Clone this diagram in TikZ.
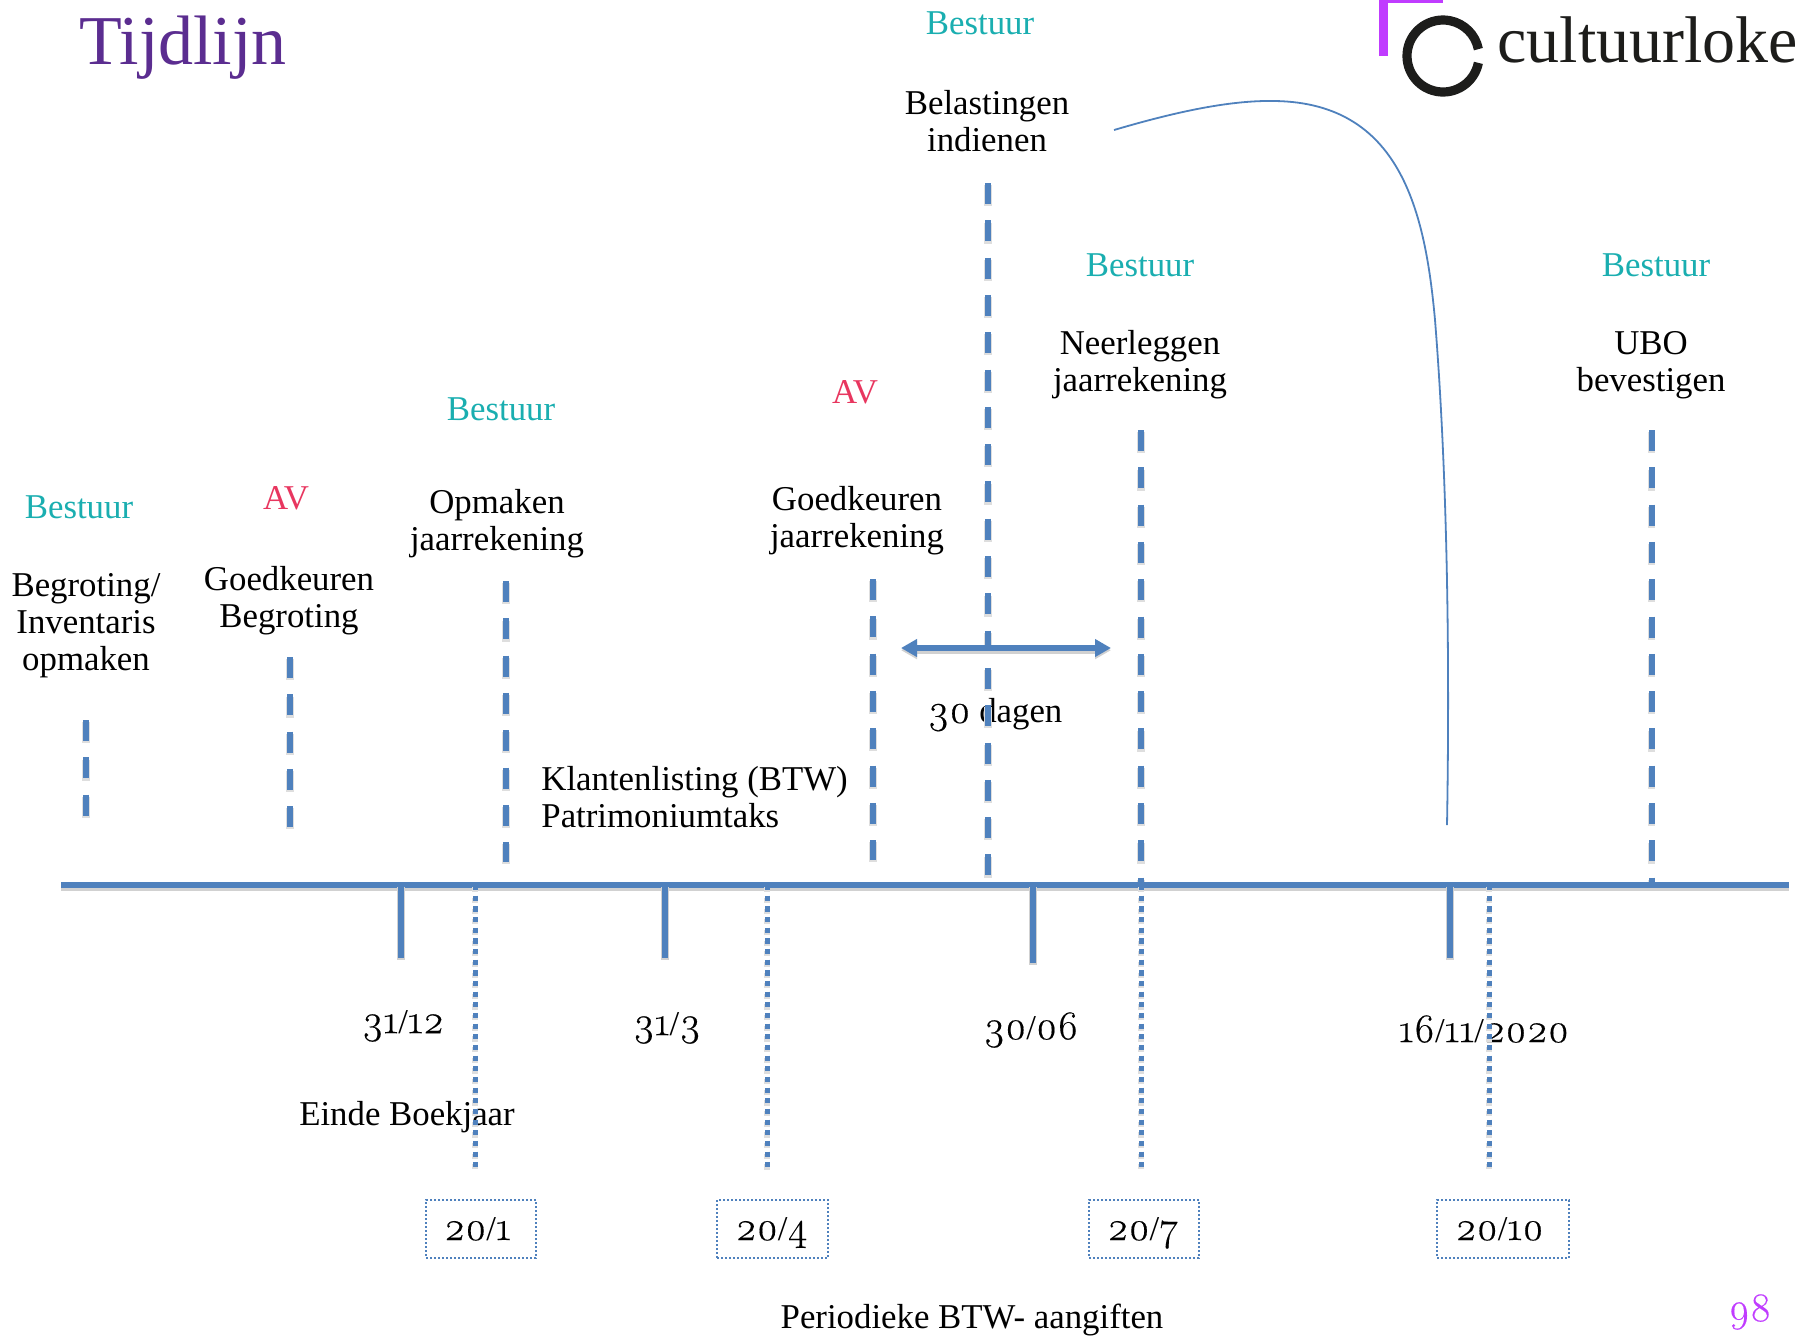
\documentclass[tikz,border=0pt]{standalone}
\usepackage{fontspec}
\setmainfont{Liberation Serif}
\newfontfamily\oldfig[Numbers=OldStyle,Scale=1.17,FakeBold=0.35]{Latin Modern Roman}
\newcommand{\os}[1]{{\oldfig #1}}
\newcommand{\boxdate}[2]{\hspace*{#1}\raisebox{-11pt}{\smash{#2}}}
\usetikzlibrary{arrows.meta}
\definecolor{axisblue}{HTML}{4F81BD}
\definecolor{teal1}{HTML}{1AAEB0}
\definecolor{red1}{HTML}{E8365F}
\definecolor{purp1}{HTML}{5B2D90}
\definecolor{viol1}{HTML}{C03CFF}
\definecolor{ink}{HTML}{1D1D1B}
\tikzset{
  x=0.5pt,y=-0.5pt,
  lbl/.style={align=center,inner sep=0pt,font=\fontsize{17.4}{18.5}\selectfont},
  board/.style={lbl,text=teal1},
  assembly/.style={lbl,text=red1},
  dashline/.style={preaction={draw=black!13,line width=3.6pt,dash pattern=on 10.5pt off 8.15pt,transform canvas={yshift=-1.1pt}},
    draw=axisblue,line width=3pt,dash pattern=on 10.5pt off 8.15pt},
  dotline/.style={preaction={draw=black!13,line width=3pt,dash pattern=on 2.6pt off 2.73pt,transform canvas={yshift=-1.1pt}},
    draw=axisblue,line width=2.5pt,dash pattern=on 2.6pt off 2.73pt},
  tickline/.style={preaction={draw=black!18,line width=3.6pt,transform canvas={yshift=-1.1pt}},
    draw=axisblue,line width=3pt},
  datebox/.style={lbl,draw=axisblue,line width=.8pt,dash pattern=on 1pt off 1pt,minimum height=29pt},
}
\begin{document}
\begin{tikzpicture}
\useasboundingbox (0,0) rectangle (1797,1335);
% heading and logo
\node[inner sep=0pt,text=purp1,font=\fontsize{35}{37}\selectfont] (title) at (183,48) {Tijdlijn};
\fill[viol1] (1379,0) rectangle (1388,56);
\fill[viol1] (1379,0) rectangle (1443,2.5);
\draw[ink,line width=4.6pt] (1443,56) ++(11:36) arc[start angle=11,end angle=349,radius=36];
\node[anchor=base west,inner sep=0pt,text=ink,font=\fontsize{33}{36}\selectfont] (logo) at (1497,62) {cultuurloke};
% labels above the axis
\node[board] (b1) at (980,23) {Bestuur};
\node[lbl] (t1) at (987,121) {Belastingen\\indienen};
\node[board] (b2) at (1140,265) {Bestuur};
\node[lbl] (t2) at (1140,365) {Neerleggen\\jaarrekening};
\node[board] (b3) at (1656,265) {Bestuur};
\node[lbl] (t3) at (1651,365) {UBO\\bevestigen};
\node[assembly] (a1) at (855,392) {AV};
\node[lbl] (t4) at (857,521) {Goedkeuren\\jaarrekening};
\node[board] (b4) at (501,409) {Bestuur};
\node[lbl] (t5) at (497,524) {Opmaken\\jaarrekening};
\node[board] (b5) at (79,507) {Bestuur};
\node[lbl] (t6) at (86,626) {Begroting/\\Inventaris\\opmaken};
\node[assembly] (a2) at (286,498) {AV};
\node[lbl] (t7) at (289,601) {Goedkeuren\\Begroting};
\node[lbl,anchor=west,align=left] (t8) at (541,797) {Klantenlisting (BTW)\\Patrimoniumtaks};
\node[lbl] (t9) at (995,715) {\os{30} dagen};
% labels below the axis
\node[lbl] (d1) at (403,1026) {\os{31}/\os{12}};
\node[lbl] (d2) at (407,1117) {Einde Boekjaar};
\node[lbl] (d3) at (667,1028) {\os{31}/\os{3}};
\node[lbl] (d4) at (1031,1030) {\os{30}/\os{06}};
\node[lbl] (d5) at (1484,1029) {\os{16}/\os{11}/\os{2020}};
\node[datebox,minimum width=55pt] (q1) at (481,1229) {\boxdate{-3.5pt}{\os{20}/\os{1}}};
\node[datebox,minimum width=55.5pt] (q2) at (772.5,1229) {\boxdate{-1pt}{\os{20}/\os{4}}};
\node[datebox,minimum width=55pt] (q3) at (1144,1229) {\boxdate{-1pt}{\os{20}/\os{7}}};
\node[datebox,minimum width=66pt] (q4) at (1503,1229) {\boxdate{-3.5pt}{\os{20}/\os{10}}};
\node[lbl] (p1) at (972,1320) {Periodieke BTW- aangiften};
\node[lbl,text=viol1] (pg) at (1750,1312) {\os{98}};
% named ends
\coordinate (axL) at (61,885); \coordinate (axR) at (1789,885);
\foreach \n/\x/\ya/\yb in {v1/86/720/816,v2/290/657/827,v3/506/581/862,v4/873/579/860,v5/988/183/877,v6/1141/430/888,v7/1651.5/430/885}{
  \coordinate (\n a) at (\x,\ya); \coordinate (\n b) at (\x,\yb);
  \draw[dashline] (\n a) -- (\n b);
}
\draw[tickline] (axL) -- (axR);
\foreach \n/\x/\yb in {s1/401/958,s2/665/958,s3/1033/963,s4/1450/958}{
  \coordinate (\n a) at (\x,885); \coordinate (\n b) at (\x,\yb);
  \draw[tickline] (\n a) -- (\n b);
}
\foreach \n/\x/\yb in {o1/475/1167,o2/767/1172,o3/1141/1167,o4/1489/1167}{
  \coordinate (\n a) at (\x,885); \coordinate (\n b) at (\x,\yb);
  \draw[dotline] (\n a) -- (\n b);
}
% thirty day span
\coordinate (spL) at (901,648); \coordinate (spR) at (1111,648);
\draw[tickline,{Triangle[length=8pt,width=8.5pt]}-{Triangle[length=8pt,width=8.5pt]}] (spL) -- (spR);
% curved connector
\coordinate (cvA) at (1114,130); \coordinate (cvB) at (1447,825);
\draw[axisblue,line width=.9pt] (cvA) .. controls (1175,112) and (1230,100) .. (1275,101)
  .. controls (1400,103) and (1425,210) .. (1435,320)
  .. controls (1447,470) and (1450,650) .. (cvB);
\end{tikzpicture}
\end{document}
